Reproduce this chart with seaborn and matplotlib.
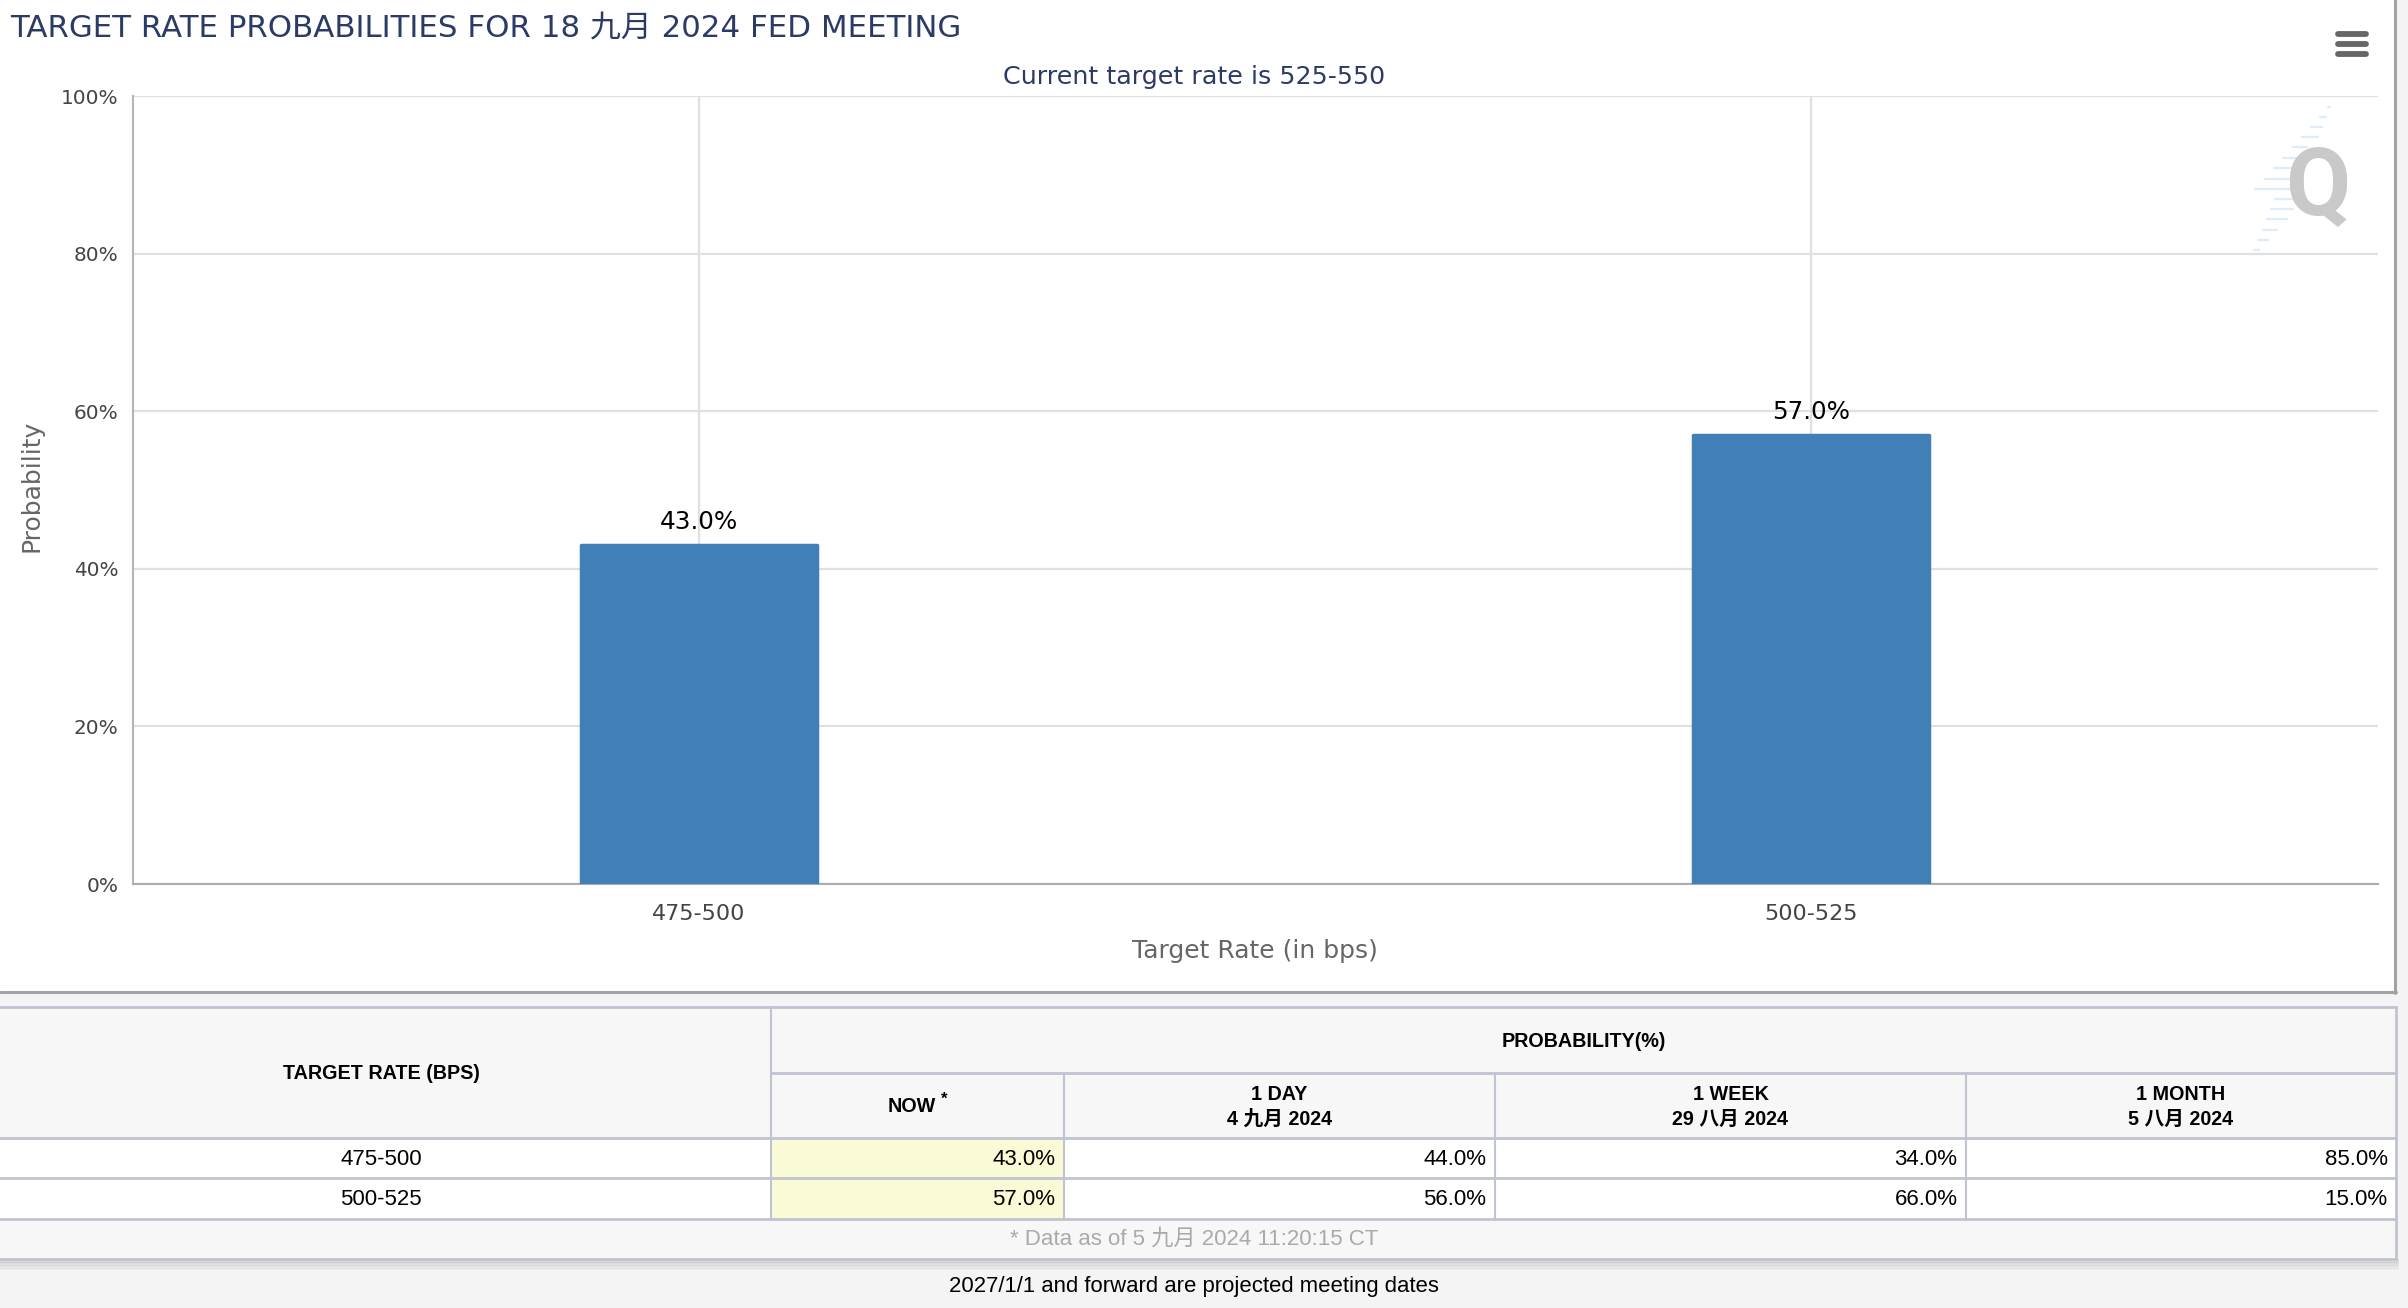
import matplotlib
matplotlib.use('Agg')
import matplotlib.pyplot as plt
import seaborn as sns
from matplotlib.patches import Rectangle

rates = ['475-500', '500-525']
probs = [43.0, 57.0]
yticks = [0, 20, 40, 60, 80, 100]

table_now = ['43.0%', '57.0%']
table_day = ['44.0%', '56.0%']
table_week = ['34.0%', '66.0%']
table_month = ['85.0%', '15.0%']
col_heads = ['1 DAY\n4 九月 2024', '1 WEEK\n29 八月 2024', '1 MONTH\n5 八月 2024']

NAVY = '#2b3a67'
GRID = '#e0e0e0'
LINE = '#c0c4d0'
LABEL = '#666666'
W, H = 2408, 1308

sns.set_style('white')
sans = ['DejaVu Sans', 'Noto Sans CJK SC']
arial = ['Liberation Sans', 'Noto Sans CJK SC']
plt.rcParams['font.family'] = sans

fig = plt.figure(figsize=(W / 100, H / 100), dpi=100, facecolor='#f4f4f4')

# page layer in pixel coordinates
bg = fig.add_axes([0, 0, 1, 1], zorder=0)
bg.set_xlim(0, W)
bg.set_ylim(H, 0)
bg.axis('off')


def box(x0, y0, x1, y1, color):
    bg.add_patch(Rectangle((x0, y0), x1 - x0, y1 - y0, fc=color, ec='none'))


def line(x0, y0, x1, y1, color=LINE, lw=1.5, **kw):
    bg.plot([x0, x1], [y0, y1], color=color, lw=lw, **kw)


# chart panel
box(0, 0, 2395, 991, 'white')
line(0, 992, 2396, 992, '#a3a3a3', 2.2)
line(2395, 0, 2395, 993, '#a3a3a3', 2.2)

# menu icon
for y in [34, 44, 54]:
    line(2338, y, 2366, y, '#666666', 4.2, solid_capstyle='round')

# watermark
dashes = [(2328, 2330, 107), (2320, 2326, 117), (2311, 2322, 127), (2302, 2318, 137),
          (2293, 2307, 147), (2283, 2297, 158), (2274, 2293, 168), (2265, 2293, 179),
          (2255, 2293, 189), (2275, 2293, 199), (2271, 2293, 209), (2267, 2287, 219),
          (2263, 2277, 230), (2258, 2268, 240), (2254, 2259, 250)]
for x0, x1, y in dashes:
    line(x0, y, x1, y, '#dcecfb', 1.6)
bg.text(2318, 189, 'Q', fontsize=68, fontweight='bold', family='Roboto', color='#c9c9c9',
        ha='center', va='center')

# titles outside the plot
bg.text(10, 29, 'TARGET RATE PROBABILITIES FOR 18 九月 2024 FED MEETING', fontsize=22.2, color=NAVY,
        va='center', ha='left', family=sans)
bg.text(1194, 77, 'Current target rate is 525-550', fontsize=18.3, color=NAVY, va='center', ha='center')

# main chart
ax = fig.add_axes([133 / W, 1 - 884 / H, (2378 - 133) / W, (884 - 96) / H], zorder=1)
ax.patch.set_alpha(0)
sns.barplot(x=rates, y=probs, color='#4180b6', saturation=1, width=0.212, ax=ax, zorder=3)
for bar in ax.patches:
    bar.set_edgecolor('#4180b6')
    bar.set_linewidth(2.5)
    bar.set_joinstyle('round')
ax.bar_label(ax.containers[0], fmt='%.1f%%', fontsize=17.7, color='black', padding=8)

ax.set_xlim(-0.509, 1.51)
ax.set_ylim(0, 100)
ax.set_yticks(yticks)
ax.set_yticklabels([f'{t}%' for t in yticks])
ax.tick_params(axis='y', length=0, pad=10.5, labelsize=14.4, labelcolor='#444444')
ax.tick_params(axis='x', length=0, pad=14.5, labelsize=16, labelcolor='#444444')
ax.grid(True, color=GRID, lw=1.6)
ax.set_axisbelow(True)
ax.spines['top'].set_visible(False)
ax.spines['right'].set_visible(False)
ax.spines['left'].set_color('#b5b5b5')
ax.spines['bottom'].set_color('#a8adb5')
ax.spines['left'].set_linewidth(1.5)
ax.spines['bottom'].set_linewidth(1.5)
bg.text(31, 486, 'Probability', rotation=90, fontsize=18, color=LABEL, ha='center', va='center')
bg.text(1255, 951, 'Target Rate (in bps)', fontsize=18, color=LABEL, ha='center', va='center')

# table under the chart
cols = [771, 1064, 1495, 1966, 2396]
rows = [1138, 1178, 1219]

for k in range(7):
    line(0, 1260 + k * 1.5, 2398, 1260 + k * 1.5, '#b4b4b4', 1.5, alpha=0.42 - k * 0.055)
box(0, 1007, 2396, 1259, '#f7f7f7')
box(0, rows[0], 2396, rows[2], 'white')
box(cols[0], rows[0], cols[1], rows[2], '#fafad7')

for y in [1007, rows[0], rows[1], rows[2], 1259]:
    line(0, y, 2396, y, lw=2)
line(cols[0], 1073, 2396, 1073, lw=2)
line(cols[0], 1007, cols[0], rows[2])
line(2396, 1007, 2396, 1259, lw=2)
for x in cols[1:4]:
    line(x, 1073, x, rows[2])

bg.text(381, 1073.5, 'TARGET RATE (BPS)', fontsize=14.2, fontweight='bold', family=arial, ha='center', va='center', color='black')
bg.text(1584, 1041.5, 'PROBABILITY(%)', fontsize=14.2, fontweight='bold', family=arial, ha='center', va='center', color='black')
bg.text(912, 1106, 'NOW', fontsize=14.2, fontweight='bold', family=arial, ha='center', va='center', color='black')
bg.text(944, 1099, '*', fontsize=12, fontweight='bold', family=arial, ha='center', va='center', color='black')
for i, head in enumerate(col_heads):
    top, bottom = head.split('\n')
    xc = (cols[i + 1] + cols[i + 2]) / 2
    bg.text(xc, 1094.5, top, fontsize=14.2, fontweight='bold', family=arial, ha='center', va='center', color='black')
    bg.text(xc, 1119.5, bottom, fontsize=14.2, fontweight='bold', family=arial, ha='center', va='center', color='black')

row_centers = [1159.5, 1199.5]
for r, rate in enumerate(rates):
    bg.text(381, row_centers[r], rate, fontsize=16, family=arial, ha='center', va='center', color='black')
    for c, values in enumerate([table_now, table_day, table_week, table_month]):
        bg.text(cols[c + 1] - 8.5, row_centers[r], values[r], fontsize=16, family=arial, ha='right', va='center', color='black')

bg.text(1194, 1239.5, '* Data as of 5 九月 2024 11:20:15 CT', fontsize=16, family=arial, ha='center', va='center', color='#aaaaaa')
bg.text(1194, 1286.5, '2027/1/1 and forward are projected meeting dates', fontsize=15.9, family=arial, ha='center', va='center', color='black')

fig.savefig('out.png', dpi=100, facecolor=fig.get_facecolor())
